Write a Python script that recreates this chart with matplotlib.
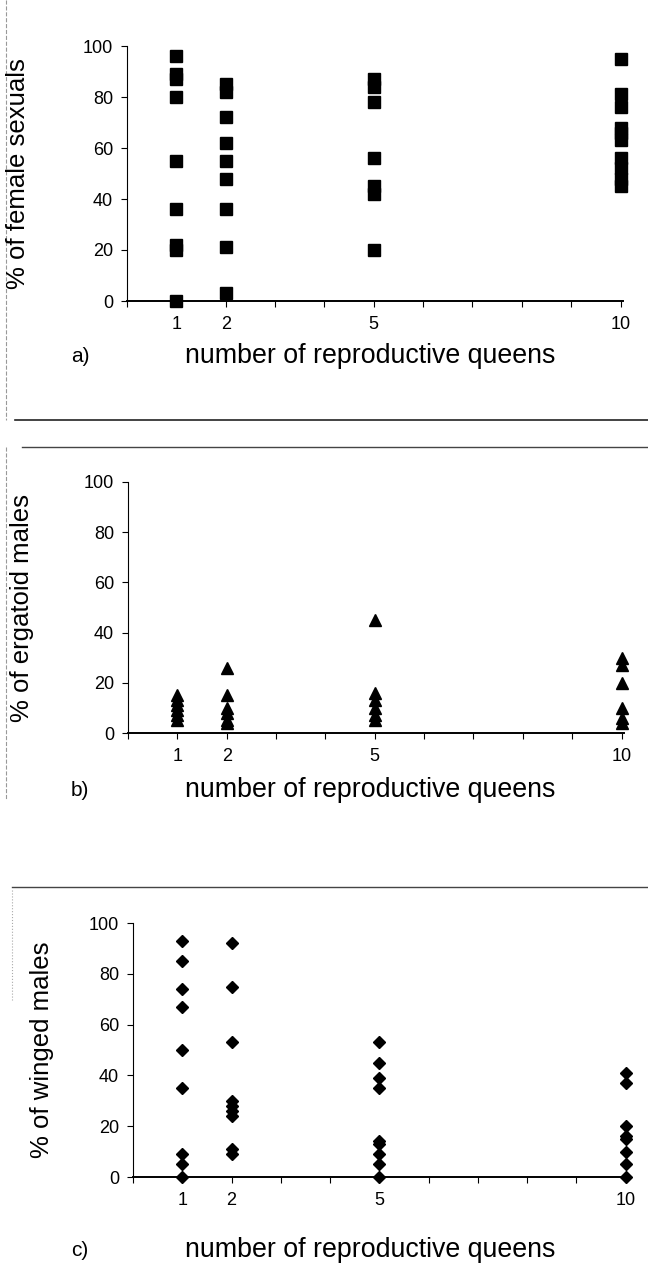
import matplotlib
matplotlib.use("Agg")
import matplotlib.pyplot as plt
from matplotlib.lines import Line2D

plt.rcParams['font.family'] = ['Liberation Sans', 'DejaVu Sans']

# number of reproductive queens
queens = [1, 2, 5, 10]

# a) % of female sexuals
female_q1 = [96, 89, 87, 80, 55, 36, 22, 20, 0]
female_q2 = [85, 82, 72, 62, 55, 48, 36, 21, 3]
female_q5 = [87, 84, 78, 56, 45, 42, 20]
female_q10 = [95, 81, 76, 68, 66, 63, 56, 52, 48, 45]

# b) % of ergatoid males
ergatoid_q1 = [15, 13, 11, 9, 7, 5]
ergatoid_q2 = [26, 15, 10, 8, 5, 4]
ergatoid_q5 = [45, 16, 13, 10, 7, 5]
ergatoid_q10 = [30, 27, 20, 10, 6, 4]

# c) % of winged males
winged_q1 = [93, 85, 74, 67, 50, 35, 9, 5, 0]
winged_q2 = [92, 75, 53, 30, 28, 26, 24, 11, 9]
winged_q5 = [53, 45, 39, 35, 14, 13, 9, 5, 0]
winged_q10 = [41, 37, 20, 16, 15, 10, 5, 0]

ylabels = ["% of female sexuals", "% of ergatoid males", "% of winged males"]
panel_tags = ["a)", "b)", "c)"]
xlabel = "number of reproductive queens"

W, H = 648, 1288
fig = plt.figure(figsize=(W / 100, H / 100), dpi=100)


def rect(l, r, t, b):
    return [l / W, 1 - b / H, (r - l) / W, (b - t) / H]


panels = [
    dict(box=(127, 623, 46, 301), groups=[female_q1, female_q2, female_q5, female_q10],
         marker='s', ms=8.8, ylab_x=18, tag_y=356),
    dict(box=(128, 624, 482, 733), groups=[ergatoid_q1, ergatoid_q2, ergatoid_q5, ergatoid_q10],
         marker='^', ms=9.2, ylab_x=22, tag_y=790),
    dict(box=(133, 628, 923, 1177), groups=[winged_q1, winged_q2, winged_q5, winged_q10],
         marker='D', ms=5.9, ylab_x=42, tag_y=1250),
]

for i, p in enumerate(panels):
    l, r, t, b = p['box']
    ax = fig.add_axes(rect(l, r, t, b))
    for q, vals in zip(queens, p['groups']):
        ax.plot([q] * len(vals), vals, linestyle='none', marker=p['marker'],
                ms=p['ms'], color='black', clip_on=False, zorder=3)
    ax.set_xlim(0, 10.05)
    ax.set_ylim(0, 100)
    ax.set_xticks(range(0, 11))
    ax.set_xticklabels([str(k) if k in queens else '' for k in range(0, 11)])
    ax.set_yticks(range(0, 101, 20))
    ax.tick_params(direction='out', length=4, width=0.8, labelsize=13, pad=6)
    ax.tick_params(axis='x', pad=7)
    for s in ['top', 'right']:
        ax.spines[s].set_visible(False)
    ax.spines['left'].set_linewidth(0.8)
    ax.spines['bottom'].set_linewidth(1.4)

    fig.text(p['ylab_x'] / W, 1 - (t + b) / 2 / H, ylabels[i], rotation=90,
             ha='center', va='center', fontsize=18.5)
    fig.text(370 / W, 1 - p['tag_y'] / H, xlabel, ha='center', va='center', fontsize=19.3)
    fig.text(80 / W, 1 - p['tag_y'] / H, panel_tags[i], ha='center', va='center', fontsize=15)

# scanned frame lines around the panels
frame = [
    ((15, 648), (420, 420), '#222222', 1.2, '-'),
    ((6, 6), (0, 420), '#999999', 0.8, '--'),
    ((22, 648), (447, 447), '#444444', 1.0, '-'),
    ((6, 6), (447, 800), '#999999', 0.8, '--'),
    ((12, 648), (887, 887), '#444444', 1.0, '-'),
    ((12, 12), (890, 1000), '#aaaaaa', 0.8, ':'),
]
for xs, ys, c, lw, ls in frame:
    fig.add_artist(Line2D([x / W for x in xs], [1 - y / H for y in ys],
                          color=c, lw=lw, ls=ls))

plt.savefig("out.png", dpi=100)
